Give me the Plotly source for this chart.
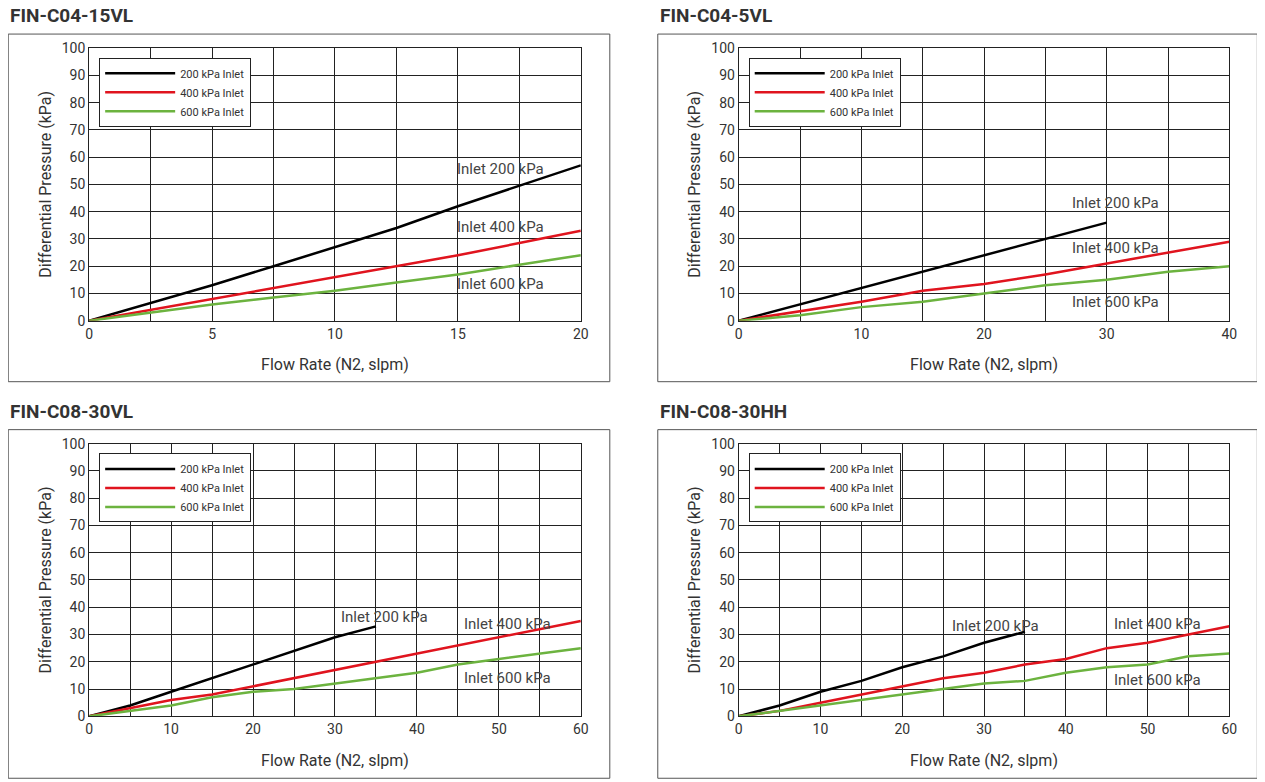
import plotly.graph_objects as go

# panel data
titles = ["FIN-C04-15VL", "FIN-C04-5VL", "FIN-C08-30VL", "FIN-C08-30HH"]

x1 = [0, 2.5, 5, 7.5, 10, 12.5, 15, 17.5, 20]
p1_200 = [0, 6.5, 13, 20, 27, 34, 42, 49.5, 57]
p1_400 = [0, 4, 8, 12, 16, 20, 24, 28.5, 33]
p1_600 = [0, 3, 6, 8.5, 11, 14, 17, 20.5, 24]

x2 = [0, 5, 10, 15, 20, 25, 30, 35, 40]
p2_200 = [0, 6, 12, 18, 24, 30, 36]
p2_400 = [0, 3.5, 7, 11, 13.5, 17, 21, 25, 29]
p2_600 = [0, 2, 5, 7, 10, 13, 15, 18, 20]

x3 = [0, 5, 10, 15, 20, 25, 30, 35, 40, 45, 50, 55, 60]
p3_200 = [0, 4, 9, 14, 19, 24, 29, 33]
p3_400 = [0, 3, 6, 8, 11, 14, 17, 20, 23, 26, 29, 32, 35]
p3_600 = [0, 2, 4, 7, 9, 10, 12, 14, 16, 19, 21, 23, 25]

p4_200 = [0, 4, 9, 13, 18, 22, 27, 31]
p4_400 = [0, 2, 5, 8, 11, 14, 16, 19, 21, 25, 27, 30, 33]
p4_600 = [0, 2, 4, 6, 8, 10, 12, 13, 16, 18, 19, 22, 23]

series_names = ["200 kPa Inlet", "400 kPa Inlet", "600 kPa Inlet"]
colors = ["#000000", "#e0141e", "#6cb33f"]

panels = [
    (x1, [p1_200, p1_400, p1_600], 20, 2.5, 5, [(16.75, 55.7), (16.75, 34.4), (16.75, 13.5)]),
    (x2, [p2_200, p2_400, p2_600], 40, 5, 10, [(30.7, 43.2), (30.7, 26.7), (30.7, 7.0)]),
    (x3, [p3_200, p3_400, p3_600], 60, 5, 10, [(36.1, 36.6), (51.1, 34.0), (51.1, 13.9)]),
    (x3, [p4_200, p4_400, p4_600], 60, 5, 10, [(31.4, 33.0), (51.2, 34.0), (51.2, 13.2)]),
]

W, H = 1265, 782


def px(x):
    # pixel -> paper x, corrected for the offset seen in the rendered page
    return (x - 10.78) / 0.9912 / W


def py(y):
    return 1 - (y - 14.91) / 0.9806 / H


xdoms = [(px(88), px(580)), (px(738), px(1229))]
ydoms = [(py(320), py(47)), (py(716), py(443))]
frames_x = [(7, 609), (657, 1257)]
frames_y = [(33, 381), (429, 778)]
title_y = [14, 411]

FONT = "Liberation Sans Narrow, Roboto, sans-serif"
fig = go.Figure()
layout = dict(width=W, height=H, margin=dict(l=0, r=0, t=0, b=0),
              paper_bgcolor="white", plot_bgcolor="white",
              font=dict(family=FONT, color="#333"), shapes=[], annotations=[])

for i, (xs, ys, xmax, grid, lab, labpos) in enumerate(panels):
    col, row = i % 2, i // 2
    n = "" if i == 0 else str(i + 1)
    xa, ya = "x" + n, "y" + n
    leg = "legend" + n
    for k in range(3):
        fig.add_trace(go.Scatter(x=xs[:len(ys[k])], y=ys[k], mode="lines", name=series_names[k],
                                 line=dict(color=colors[k], width=2.5), xaxis=xa, yaxis=ya,
                                 legend=leg))
    ticks = [v * lab for v in range(int(xmax / lab) + 1)]
    layout["xaxis" + n] = dict(domain=xdoms[col], range=[0, xmax], tickvals=ticks,
                              showgrid=True, gridcolor="#222", gridwidth=1, zeroline=False,
                              showline=True, linecolor="#222", mirror=True, anchor=ya,
                              tickfont=dict(size=14, color="#333"),
                              minor=dict(dtick=grid, showgrid=True, gridcolor="#222", gridwidth=1),
                              title=dict(text="Flow Rate (N2, slpm)", font=dict(size=16, color="#333"), standoff=18))
    layout["yaxis" + n] = dict(domain=ydoms[row], range=[0, 100], dtick=10,
                              showgrid=True, gridcolor="#222", gridwidth=1, zeroline=False,
                              showline=True, linecolor="#222", mirror=True, anchor=xa,
                              tickfont=dict(size=14, color="#333"),
                              title=dict(text="Differential Pressure (kPa)", font=dict(size=16, color="#333"), standoff=6))
    fx0, fx1 = frames_x[col]
    fy0, fy1 = frames_y[row]
    layout["shapes"].append(dict(type="rect", xref="paper", yref="paper",
                                 x0=px(fx0), x1=px(fx1), y0=py(fy1), y1=py(fy0),
                                 line=dict(color="#555", width=1)))
    layout["annotations"].append(dict(text="<b>" + titles[i] + "</b>", xref="paper", yref="paper",
                                      x=px(fx0), y=py(title_y[row]), xanchor="left", yanchor="middle",
                                      showarrow=False, font=dict(size=19, color="#333", family=FONT)))
    for k, (lx, ly) in enumerate(labpos):
        layout["annotations"].append(dict(text="Inlet %d kPa" % (200 * (k + 1)), xref=xa, yref=ya,
                                          x=lx, y=ly, showarrow=False,
                                          font=dict(size=15, color="#444", family=FONT)))
    layout[leg] = dict(x=px(xdoms[col][0] * W * 0.9912 + 10.78 + 10), y=ydoms[row][1] - 10 / H,
                       xanchor="left", yanchor="top",
                       xref="paper", yref="paper", bgcolor="white", bordercolor="#222", borderwidth=1,
                       font=dict(size=11, color="#333"), itemwidth=70, tracegroupgap=0)

fig.update_layout(**layout)
fig.write_html("out.html")
